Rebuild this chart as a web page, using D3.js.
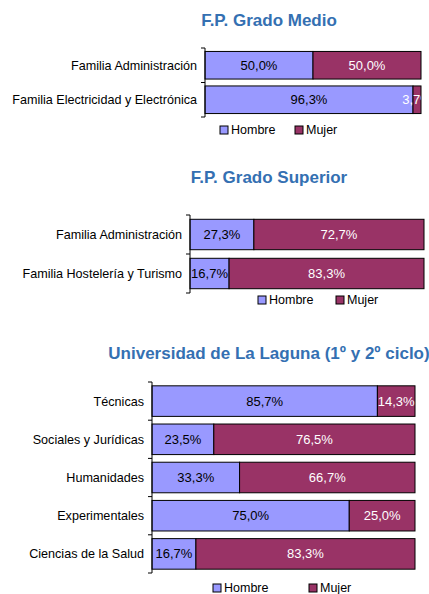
<!DOCTYPE html>
<html>
<head>
<meta charset="utf-8">
<script src="https://cdn.jsdelivr.net/npm/d3@7"></script>
<style>
  html, body { margin: 0; padding: 0; background: #fff; }
  svg { display: block; font-family: "Liberation Sans", Arial, sans-serif; }
</style>
</head>
<body>
<svg id="chart" width="429" height="594"></svg>
<script>
// Percentages by sex for each study area
const seriesNames = ["Hombre", "Mujer"];
const seriesColors = ["#9999FF", "#993366"];

const medioTitle = "F.P. Grado Medio";
const medioCategories = ["Familia Administración", "Familia Electricidad y Electrónica"];
const medioHombre = [50.0, 96.3];
const medioMujer = [50.0, 3.7];

const superiorTitle = "F.P. Grado Superior";
const superiorCategories = ["Familia Administración", "Familia Hostelería y Turismo"];
const superiorHombre = [27.3, 16.7];
const superiorMujer = [72.7, 83.3];

const ullTitle = "Universidad de La Laguna (1º y 2º ciclo)";
const ullCategories = ["Técnicas", "Sociales y Jurídicas", "Humanidades", "Experimentales", "Ciencias de la Salud"];
const ullHombre = [85.7, 23.5, 33.3, 75.0, 16.7];
const ullMujer = [14.3, 76.5, 66.7, 25.0, 83.3];

const svg = d3.select("#chart");
const fmt = v => d3.format(".1f")(v).replace(".", ",") + "%";

// Each panel: its data plus where it sits on the page
const panels = [
  { title: medioTitle, cats: medioCategories, h: medioHombre, m: medioMujer,
    titleX: 269, titleY: 26, left: 205, right: 421, top: 48, bottom: 117,
    pad: 0.2, legendY: 130, legendX: [220, 295] },
  { title: superiorTitle, cats: superiorCategories, h: superiorHombre, m: superiorMujer,
    titleX: 269, titleY: 183, left: 190, right: 424, top: 215, bottom: 293,
    pad: 0.22, legendY: 300, legendX: [258, 336] },
  { title: ullTitle, cats: ullCategories, h: ullHombre, m: ullMujer,
    titleX: 269, titleY: 359, left: 152, right: 415, top: 382, bottom: 573,
    pad: 0.2, legendY: 588, legendX: [213, 309] }
];

panels.forEach((p, pi) => {
  const g = svg.append("g");

  g.append("text")
    .attr("x", p.titleX).attr("y", p.titleY)
    .attr("text-anchor", "middle")
    .attr("font-size", 17).attr("font-weight", "bold")
    .attr("fill", "#3470B2")
    .text(p.title);

  const x = d3.scaleLinear().domain([0, 100]).range([p.left, p.right]);
  const y = d3.scaleBand().domain(p.cats).range([p.top, p.bottom])
    .paddingInner(p.pad).paddingOuter(p.pad / 2);

  const rows = p.cats.map((c, i) => ({ cat: c, values: [p.h[i], p.m[i]] }));
  const stacked = d3.stack().keys([0, 1]).value((d, k) => d.values[k])(rows);

  // value labels that overflow a thin segment are cut at the plot edge
  const clipId = "clip" + pi;
  g.append("clipPath").attr("id", clipId)
    .append("rect")
    .attr("x", p.left).attr("y", p.top)
    .attr("width", p.right - p.left).attr("height", p.bottom - p.top);

  stacked.forEach((layer, k) => {
    const lg = g.append("g");
    lg.selectAll("rect").data(layer).join("rect")
      .attr("x", d => x(d[0]))
      .attr("y", d => y(d.data.cat))
      .attr("width", d => x(d[1]) - x(d[0]))
      .attr("height", y.bandwidth())
      .attr("fill", seriesColors[k])
      .attr("stroke", "#000").attr("stroke-width", 1);
    g.append("g").attr("clip-path", `url(#${clipId})`)
      .selectAll("text").data(layer).join("text")
      .attr("x", d => (x(d[0]) + x(d[1])) / 2)
      .attr("y", d => y(d.data.cat) + y.bandwidth() / 2)
      .attr("dy", "0.35em")
      .attr("text-anchor", "middle")
      .attr("font-size", 13)
      .attr("fill", k === 0 ? "#000" : "#fff")
      .text(d => fmt(d[1] - d[0]));
  });

  // Category axis with ticks between the bands
  const ax = g.append("g");
  ax.append("line")
    .attr("x1", p.left).attr("x2", p.left)
    .attr("y1", p.top).attr("y2", p.bottom)
    .attr("stroke", "#000");
  const edges = d3.range(p.cats.length + 1).map(i => p.top + i * (p.bottom - p.top) / p.cats.length);
  ax.selectAll("line.tick").data(edges).join("line")
    .attr("class", "tick")
    .attr("x1", p.left - 4).attr("x2", p.left)
    .attr("y1", d => d).attr("y2", d => d)
    .attr("stroke", "#000");
  ax.selectAll("text").data(p.cats).join("text")
    .attr("x", p.left - 8)
    .attr("y", d => y(d) + y.bandwidth() / 2)
    .attr("dy", "0.35em")
    .attr("text-anchor", "end")
    .attr("font-size", 12.6)
    .attr("fill", "#000")
    .text(d => d);

  // Legend
  const leg = g.append("g");
  seriesNames.forEach((name, k) => {
    leg.append("rect")
      .attr("x", p.legendX[k]).attr("y", p.legendY - 4)
      .attr("width", 8).attr("height", 8)
      .attr("fill", seriesColors[k]).attr("stroke", "#000");
    leg.append("text")
      .attr("x", p.legendX[k] + 11).attr("y", p.legendY)
      .attr("dy", "0.35em")
      .attr("font-size", 12.5)
      .attr("fill", "#000")
      .text(name);
  });
});
</script>
</body>
</html>
